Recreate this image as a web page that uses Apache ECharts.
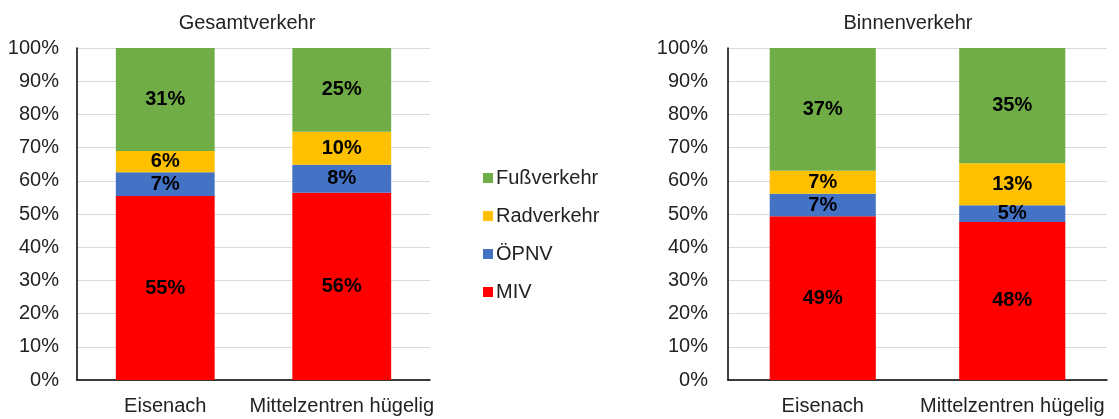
<!DOCTYPE html>
<html>
<head>
<meta charset="utf-8">
<script src="https://cdn.jsdelivr.net/npm/echarts@6/dist/echarts.min.js"></script>
<style>
  html, body { margin: 0; padding: 0; background: #fff; }
  #chart-container { width: 1119px; height: 419px; }
</style>
</head>
<body>
<div id="chart-container"></div>
<script>
// categories and shares (%)
const categories = ["Eisenach", "Mittelzentren hügelig"];
const modes = ["MIV", "ÖPNV", "Radverkehr", "Fußverkehr"];
const legendOrder = ["Fußverkehr", "Radverkehr", "ÖPNV", "MIV"];
const colors = ["#FF0000", "#4472C4", "#FFC000", "#70AD47"];

// Gesamtverkehr
const gesamtMIV = [55.4, 56.4];
const gesamtOEPNV = [7.2, 8.4];
const gesamtRad = [6.4, 10.0];
const gesamtFuss = [31.0, 25.2];

// Binnenverkehr
const binnenMIV = [49.3, 47.6];
const binnenOEPNV = [6.8, 5.0];
const binnenRad = [6.9, 12.7];
const binnenFuss = [37.0, 34.7];

const yTicks = { min: 0, max: 100, interval: 10 };

let dom = document.getElementById("chart-container");
let myChart = echarts.init(dom, null, { renderer: "canvas" });

const font = "Liberation Sans, Arial, sans-serif";
const textColor = "#222";

function makeSeries(name, data, color, idx, stack) {
  return {
    name: name,
    type: "bar",
    stack: stack,
    xAxisIndex: idx,
    yAxisIndex: idx,
    barWidth: "56%",
    itemStyle: { color: color },
    label: {
      show: true,
      position: "inside",
      color: "#000",
      fontFamily: font,
      fontSize: 20,
      fontWeight: "bold",
      formatter: (p) => Math.round(p.value) + "%",
    },
    data: data,
  };
}

function yAxis(idx, margin) {
  return {
    type: "value",
    gridIndex: idx,
    min: yTicks.min,
    max: yTicks.max,
    interval: yTicks.interval,
    axisLine: { show: true, lineStyle: { color: "#000", width: 1.5 } },
    axisTick: { show: false },
    axisLabel: {
      formatter: "{value}%",
      color: textColor,
      fontFamily: font,
      fontSize: 20,
      margin: margin,
    },
    splitLine: { lineStyle: { color: "#D9D9D9", width: 1 } },
  };
}

function xAxis(idx) {
  return {
    type: "category",
    gridIndex: idx,
    data: categories,
    axisLine: { show: true, lineStyle: { color: "#000", width: 1.5 } },
    axisTick: { show: false },
    axisLabel: {
      color: textColor,
      fontFamily: font,
      fontSize: 20,
      margin: 16,
      interval: 0,
    },
  };
}

const gesamt = [gesamtMIV, gesamtOEPNV, gesamtRad, gesamtFuss];
const binnen = [binnenMIV, binnenOEPNV, binnenRad, binnenFuss];

let series = [];
modes.forEach((m, i) => series.push(makeSeries(m, gesamt[i], colors[i], 0, "gesamt")));
modes.forEach((m, i) => series.push(makeSeries(m, binnen[i], colors[i], 1, "binnen")));

let option = {
  animation: false,
  backgroundColor: "#fff",
  title: [
    {
      text: "Gesamtverkehr",
      left: 242,
      top: 8,
      textAlign: "center",
      textStyle: { fontFamily: font, fontSize: 20, fontWeight: "normal", color: textColor },
    },
    {
      text: "Binnenverkehr",
      left: 903,
      top: 8,
      textAlign: "center",
      textStyle: { fontFamily: font, fontSize: 20, fontWeight: "normal", color: textColor },
    },
  ],
  legend: {
    orient: "vertical",
    left: 478,
    top: 161,
    itemWidth: 10,
    itemHeight: 10,
    itemGap: 14,
    icon: "rect",
    data: legendOrder,
    textStyle: { fontFamily: font, fontSize: 20, color: textColor, lineHeight: 24, padding: [0, 0, 0, -2] },
  },
  grid: [
    { left: 77, right: 689, top: 48, bottom: 39 },
    { left: 728, right: 12, top: 48, bottom: 39 },
  ],
  xAxis: [xAxis(0), xAxis(1)],
  yAxis: [yAxis(0, 18), yAxis(1, 20)],
  series: series,
};

myChart.setOption(option);
window.addEventListener("resize", myChart.resize);
</script>
</body>
</html>
